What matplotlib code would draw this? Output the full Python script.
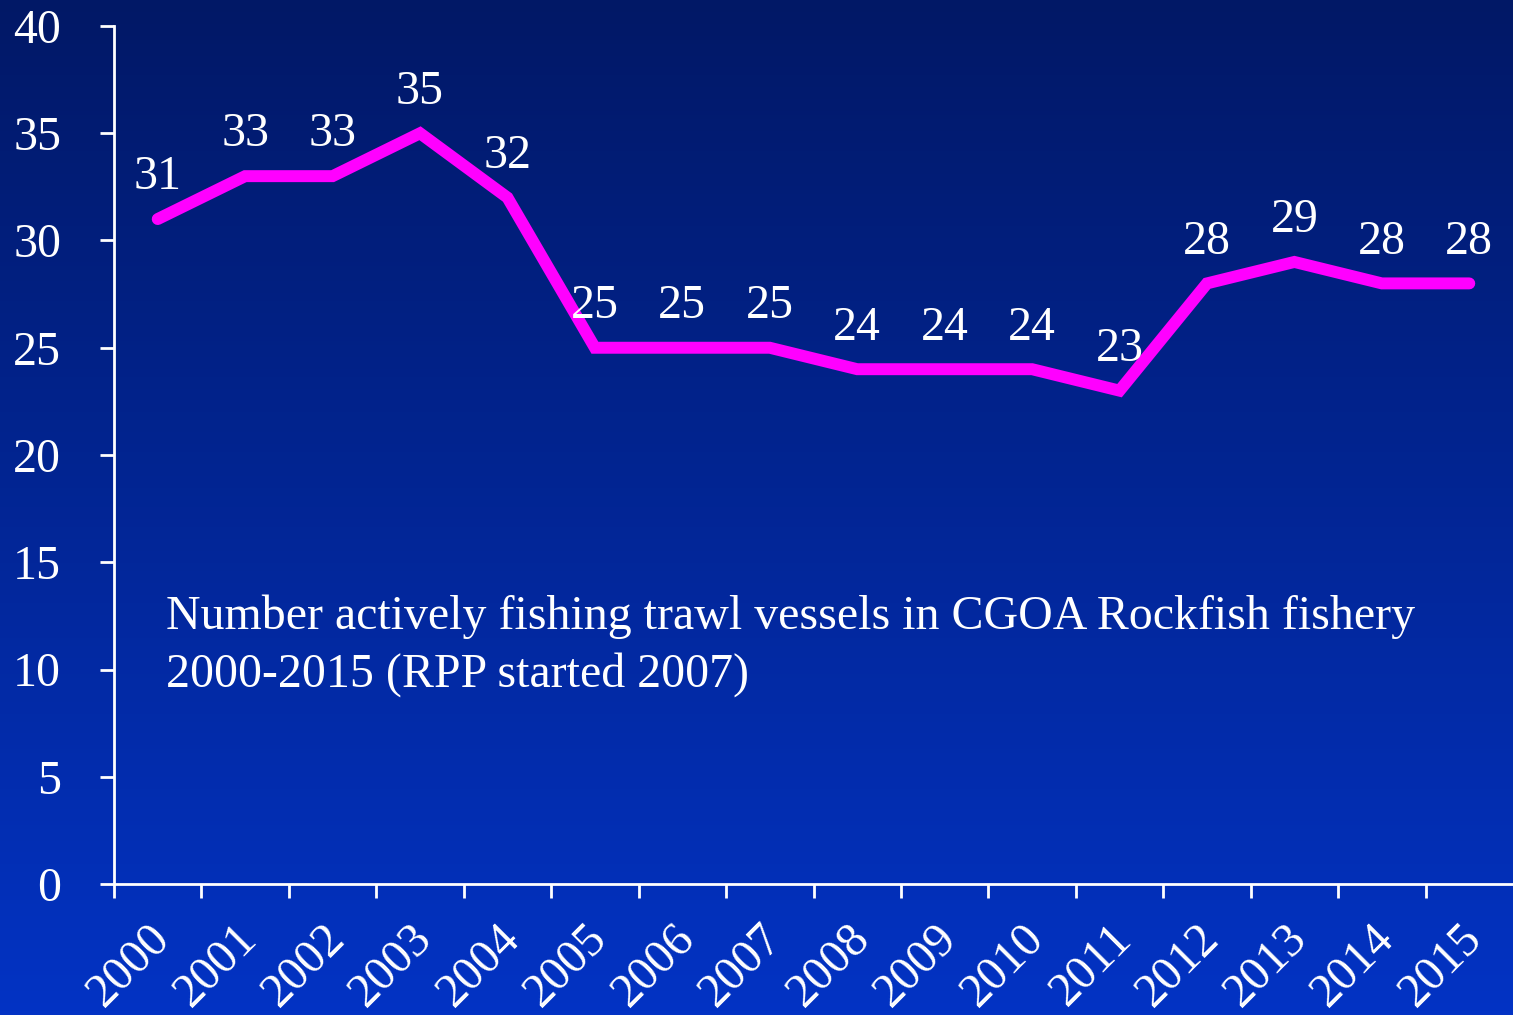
import numpy as np
import matplotlib.pyplot as plt
from matplotlib.colors import LinearSegmentedColormap
from matplotlib.transforms import ScaledTranslation

years = ['2000', '2001', '2002', '2003', '2004', '2005', '2006', '2007',
         '2008', '2009', '2010', '2011', '2012', '2013', '2014', '2015']
vessels = [31, 33, 33, 35, 32, 25, 25, 25, 24, 24, 24, 23, 28, 29, 28, 28]
y_ticks = [0, 5, 10, 15, 20, 25, 30, 35, 40]
note = 'Number actively fishing trawl vessels in CGOA Rockfish fishery\n2000-2015 (RPP started 2007)'

plt.rcParams['font.family'] = ['Liberation Serif', 'DejaVu Serif']
FS = 34.5

fig = plt.figure(figsize=(15.13, 10.15), dpi=100)

# gradient background, dark navy on top to blue at the bottom
bg = fig.add_axes([0, 0, 1, 1], zorder=-1)
cmap = LinearSegmentedColormap.from_list('bg', ['#011866', '#0333c4'])
bg.imshow(np.linspace(0, 1, 256).reshape(-1, 1), aspect='auto', cmap=cmap,
          extent=[0, 1, 0, 1])
bg.axis('off')

ax = fig.add_axes([114/1513, 1 - 884/1015, 1 - 114/1513, (884 - 26)/1015])
ax.patch.set_alpha(0)

x = np.arange(len(years))
ax.plot(x, vessels, color='#ff00ff', lw=8.6, solid_capstyle='round',
        solid_joinstyle='miter', clip_on=False)
for xi, v in zip(x, vessels):
    ax.annotate(str(v), (xi, v), xytext=(0, 30), textcoords='offset points',
                ha='center', va='center', color='white', fontsize=FS)

ax.set_xlim(-0.5, 15.5)
ax.set_ylim(0, 40)
ax.set_yticks(y_ticks)
ax.set_yticklabels([str(t) for t in y_ticks])

# ticks at category boundaries, labels at category centres
ax.set_xticks(np.arange(-0.5, 15, 1))
ax.set_xticklabels([])
ax.set_xticks(x, minor=True)
ax.set_xticklabels(years, minor=True, rotation=45, ha='right', va='top',
                   rotation_mode='anchor')
ax.tick_params(axis='x', which='minor', length=0, pad=23)
ax.tick_params(axis='x', which='major', length=10, width=2, colors='white')
ax.tick_params(axis='y', length=10, width=2, colors='white', pad=28)
shift = ScaledTranslation(-10/100, 0, fig.dpi_scale_trans)
for lab in ax.get_xticklabels(minor=True):
    lab.set_transform(lab.get_transform() + shift)
for lab in ax.get_xticklabels(minor=True) + ax.get_yticklabels():
    lab.set_color('white')
    lab.set_fontsize(FS)

for s in ['top', 'right']:
    ax.spines[s].set_visible(False)
for s in ['left', 'bottom']:
    ax.spines[s].set_color('white')
    ax.spines[s].set_linewidth(2)

fig.text(166/1513, 1 - 646/1015, note, color='white', fontsize=FS,
         ha='left', va='center', linespacing=1.37)

fig.savefig('out.png', dpi=100)
